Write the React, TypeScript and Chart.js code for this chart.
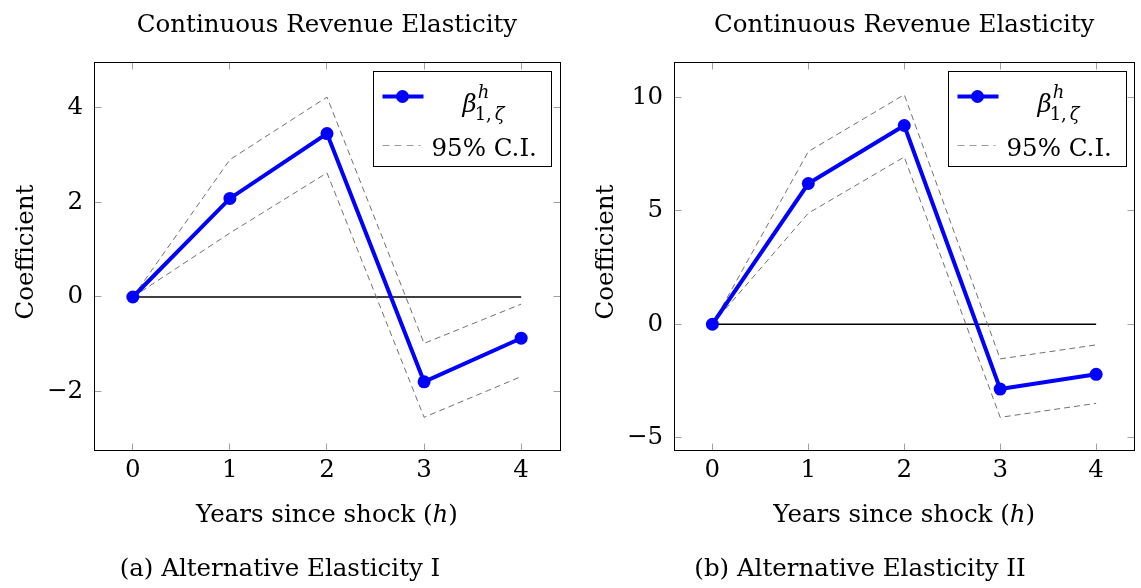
import React, { useEffect, useRef } from "react";
import { Chart, registerables } from "chart.js";

Chart.register(...registerables);

const FONT = "'DejaVu Serif', serif";

// ---- data ----
const horizons = [0, 1, 2, 3, 4];
const xTickValues = [0, 1, 2, 3, 4];

const coefA = [0, 2.08, 3.45, -1.79, -0.87];
const upperA = [0, 2.9, 4.22, -0.98, -0.15];
const lowerA = [0, 1.35, 2.62, -2.54, -1.68];
const yTicksA = [-2, 0, 2, 4];
const yRangeA = [-3.23, 4.95];

const coefB = [0, 6.21, 8.77, -2.86, -2.21];
const upperB = [0, 7.62, 10.13, -1.53, -0.91];
const lowerB = [0, 4.9, 7.38, -4.11, -3.49];
const yTicksB = [-5, 0, 5, 10];
const yRangeB = [-5.55, 11.55];

const xRange = [-0.4, 4.4];

const chartTitle = "Continuous Revenue Elasticity";
const yAxisTitle = "Coefficient";
const xAxisTitleParts = ["Years since shock (", "h", ")"];
const captionA = "(a) Alternative Elasticity I";
const captionB = "(b) Alternative Elasticity II";
const betaSymbol = "β";
const betaSup = "h";
const betaSubPlain = "1,";
const betaSubItalic = "ζ";
const ciLabel = "95% C.I.";

const FS = 24.5;
const CI_COLOR = "#707070";
const MAIN_COLOR = "#0000ff";

const fmt = (v: number) => (v < 0 ? "\u2212" + Math.abs(v) : String(v));

function drawLegend(ctx: CanvasRenderingContext2D, ca: any) {
  const w = 178;
  const h = 95;
  const bx = Math.round(ca.right - 9 - w) + 0.5;
  const by = Math.round(ca.top + 8.5) + 0.5;
  ctx.save();
  ctx.fillStyle = "#ffffff";
  ctx.fillRect(bx, by, w, h);
  ctx.strokeStyle = "#000000";
  ctx.lineWidth = 1;
  ctx.strokeRect(bx, by, w, h);

  // main series sample
  ctx.strokeStyle = MAIN_COLOR;
  ctx.lineWidth = 4;
  ctx.beginPath();
  ctx.moveTo(bx + 9, by + 25);
  ctx.lineTo(bx + 50, by + 25);
  ctx.stroke();
  ctx.fillStyle = MAIN_COLOR;
  ctx.beginPath();
  ctx.arc(bx + 29, by + 25, 6.5, 0, Math.PI * 2);
  ctx.fill();

  // CI sample
  ctx.strokeStyle = "#9a9a9a";
  ctx.lineWidth = 1;
  ctx.setLineDash([7, 5]);
  ctx.beginPath();
  ctx.moveTo(bx + 9, by + 74);
  ctx.lineTo(bx + 47, by + 74);
  ctx.stroke();
  ctx.setLineDash([]);

  ctx.fillStyle = "#000000";
  ctx.textBaseline = "alphabetic";
  ctx.textAlign = "left";
  // beta with super/subscripts
  ctx.font = `italic ${FS}px ${FONT}`;
  ctx.fillText(betaSymbol, bx + 89, by + 40);
  const bw = ctx.measureText(betaSymbol).width;
  ctx.font = `italic 18px ${FONT}`;
  ctx.fillText(betaSup, bx + 89 + bw + 1, by + 26);
  ctx.font = `18px ${FONT}`;
  ctx.fillText(betaSubPlain, bx + 89 + bw - 2, by + 48);
  const sw = ctx.measureText(betaSubPlain).width;
  ctx.font = `italic 18px ${FONT}`;
  ctx.fillText(betaSubItalic, bx + 89 + bw - 2 + sw + 3, by + 48);

  ctx.font = `${FS}px ${FONT}`;
  ctx.fillText(ciLabel, bx + 58, by + 84);
  ctx.restore();
}

type PanelProps = {
  left: number;
  width: number;
  padRight: number;
  coef: number[];
  upper: number[];
  lower: number[];
  yTicks: number[];
  yRange: number[];
  caption: string;
};

function Panel(props: PanelProps) {
  const ref = useRef<HTMLCanvasElement>(null);
  useEffect(() => {
    const { coef, upper, lower, yTicks, yRange, caption, padRight } = props;
    const canvas = ref.current!;
    const pts = (arr: number[]) => horizons.map((hh, i) => ({ x: hh, y: arr[i] }));

    const decor = {
      id: "decor",
      beforeDatasetsDraw(chart: any) {
        const { ctx, chartArea: ca, scales } = chart;
        ctx.save();
        ctx.strokeStyle = "#a0a0a0";
        ctx.lineWidth = 1;
        const tl = 7;
        const L = Math.floor(ca.left) + 0.5;
        const R = Math.floor(ca.right) + 0.5;
        const T = Math.floor(ca.top) + 0.5;
        const B = Math.floor(ca.bottom) + 0.5;
        xTickValues.forEach((v) => {
          const px = Math.floor(scales.x.getPixelForValue(v)) + 0.5;
          ctx.beginPath();
          ctx.moveTo(px, T);
          ctx.lineTo(px, T + tl);
          ctx.moveTo(px, B);
          ctx.lineTo(px, B - tl);
          ctx.stroke();
        });
        yTicks.forEach((v) => {
          const py = Math.floor(scales.y.getPixelForValue(v)) + 0.5;
          ctx.beginPath();
          ctx.moveTo(L, py);
          ctx.lineTo(L + tl, py);
          ctx.moveTo(R, py);
          ctx.lineTo(R - tl, py);
          ctx.stroke();
        });
        ctx.restore();
      },
      afterDraw(chart: any) {
        const { ctx, chartArea: ca } = chart;
        ctx.save();
        const L = Math.floor(ca.left) + 0.5;
        const R = Math.floor(ca.right) + 0.5;
        const T = Math.floor(ca.top) + 0.5;
        const B = Math.floor(ca.bottom) + 0.5;
        ctx.strokeStyle = "#000000";
        ctx.lineWidth = 1;
        ctx.strokeRect(L, T, R - L, B - T);

        const cx = (ca.left + ca.right) / 2;
        ctx.fillStyle = "#000000";
        ctx.textBaseline = "alphabetic";
        // title
        ctx.font = `${FS}px ${FONT}`;
        ctx.textAlign = "center";
        ctx.fillText(chartTitle, cx, 31.7);

        // x axis title with italic h
        ctx.textAlign = "left";
        ctx.font = `${FS}px ${FONT}`;
        const w0 = ctx.measureText(xAxisTitleParts[0]).width;
        const w2 = ctx.measureText(xAxisTitleParts[2]).width;
        ctx.font = `italic ${FS}px ${FONT}`;
        const w1 = ctx.measureText(xAxisTitleParts[1]).width;
        const x0 = cx - (w0 + w1 + w2) / 2;
        ctx.font = `${FS}px ${FONT}`;
        ctx.fillText(xAxisTitleParts[0], x0, 521.7);
        ctx.font = `italic ${FS}px ${FONT}`;
        ctx.fillText(xAxisTitleParts[1], x0 + w0, 521.7);
        ctx.font = `${FS}px ${FONT}`;
        ctx.fillText(xAxisTitleParts[2], x0 + w0 + w1, 521.7);

        // y axis title
        ctx.save();
        ctx.translate(33.3, 252);
        ctx.rotate(-Math.PI / 2);
        ctx.textAlign = "center";
        ctx.fillText(yAxisTitle, 0, 0);
        ctx.restore();

        // caption
        ctx.textAlign = "center";
        ctx.fillText(caption, 280, 576);
        ctx.restore();

        drawLegend(ctx, ca);
      },
    };

    const chart = new Chart(canvas, {
      type: "line",
      data: {
        datasets: [
          {
            label: "beta",
            data: pts(coef),
            borderColor: MAIN_COLOR,
            backgroundColor: MAIN_COLOR,
            pointBackgroundColor: MAIN_COLOR,
            pointBorderColor: MAIN_COLOR,
            borderWidth: 4,
            pointRadius: 6.5,
            pointBorderWidth: 0,
            tension: 0,
          },
          {
            label: "upper",
            data: pts(upper),
            borderColor: CI_COLOR,
            borderWidth: 1,
            borderDash: [6, 4],
            pointRadius: 0,
            tension: 0,
          },
          {
            label: "lower",
            data: pts(lower),
            borderColor: CI_COLOR,
            borderWidth: 1,
            borderDash: [6, 4],
            pointRadius: 0,
            tension: 0,
          },
          {
            label: "zero",
            data: horizons.map((hh) => ({ x: hh, y: 0 })),
            borderColor: "#000000",
            borderWidth: 1.3,
            pointRadius: 0,
            tension: 0,
          },
        ],
      },
      options: {
        responsive: false,
        animation: false,
        devicePixelRatio: 1,
        events: [],
        layout: { padding: { top: 62.5, left: 0, right: padRight, bottom: 0 } },
        plugins: {
          legend: { display: false },
          tooltip: { enabled: false },
          title: { display: false },
        },
        scales: {
          x: {
            type: "linear",
            min: xRange[0],
            max: xRange[1],
            grid: { display: false, drawTicks: false },
            border: { display: false },
            ticks: {
              font: { family: FONT, size: FS },
              color: "#000000",
              padding: 6,
              maxRotation: 0,
              autoSkip: false,
              callback: (v: any) => fmt(Number(v)),
            },
            afterBuildTicks: (s: any) => {
              s.ticks = xTickValues.map((v) => ({ value: v }));
            },
            afterFit: (s: any) => {
              s.height = 138;
            },
          },
          y: {
            type: "linear",
            min: yRange[0],
            max: yRange[1],
            grid: { display: false, drawTicks: false },
            border: { display: false },
            ticks: {
              font: { family: FONT, size: FS },
              color: "#000000",
              padding: 11,
              autoSkip: false,
              callback: (v: any) => fmt(Number(v)),
            },
            afterBuildTicks: (s: any) => {
              s.ticks = yTicks.map((v) => ({ value: v }));
            },
            afterFit: (s: any) => {
              s.width = 94;
            },
          },
        },
      },
      plugins: [decor],
    } as any);
    return () => chart.destroy();
  }, []);

  return (
    <canvas
      ref={ref}
      width={props.width}
      height={588}
      style={{ position: "absolute", left: props.left, top: 0, width: props.width, height: 588 }}
    />
  );
}

export default function App() {
  return (
    <div style={{ position: "absolute", left: 0, top: 0, width: 1141, height: 588, background: "#fff", overflow: "hidden" }}>
      <Panel left={0} width={570} padRight={10} coef={coefA} upper={upperA} lower={lowerA} yTicks={yTicksA} yRange={yRangeA} caption={captionA} />
      <Panel left={580} width={561} padRight={1} coef={coefB} upper={upperB} lower={lowerB} yTicks={yTicksB} yRange={yRangeB} caption={captionB} />
    </div>
  );
}
